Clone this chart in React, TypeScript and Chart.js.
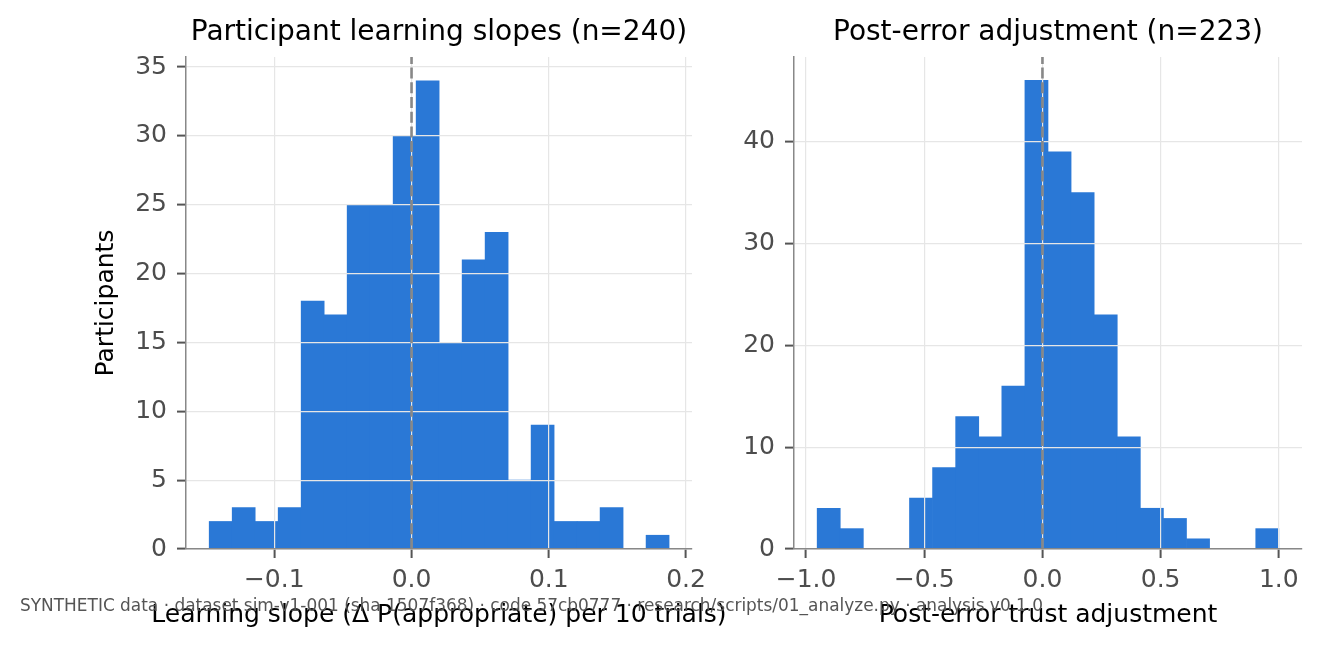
import React, { useEffect, useRef } from "react";
import Chart from "chart.js/auto";

const FONT = "'DejaVu Sans', sans-serif";
const BAR = "#2a78d6";
const GRID = "#e6e6e6";
const TICK_TEXT = "#4d4d4d";

// left panel: learning slopes, 20 bins
const slopeBinStart = -0.1474;
const slopeBinWidth = 0.01675;
const slopeCounts = [2, 3, 2, 3, 18, 17, 25, 25, 30, 34, 15, 21, 23, 5, 9, 2, 2, 3, 0, 1];
const slopeXTicks = [-0.1, 0, 0.1, 0.2];
const slopeYTicks = [0, 5, 10, 15, 20, 25, 30, 35];

// right panel: post-error adjustment, 20 bins
const adjBinStart = -0.953;
const adjBinWidth = 0.09765;
const adjCounts = [4, 2, 0, 0, 5, 8, 13, 11, 16, 46, 39, 35, 23, 11, 4, 3, 1, 0, 0, 2];
const adjXTicks = [-1, -0.5, 0, 0.5, 1];
const adjYTicks = [0, 10, 20, 30, 40];

const FOOTER =
  "SYNTHETIC data · dataset sim-v1-001 (sha 1507f368) · code 57cb0777 · research/scripts/01_analyze.py · analysis v0.1.0";

Chart.defaults.font.family = FONT;

const fmtX = (v: number) => (v < 0 ? "\u2212" : "") + Math.abs(v).toFixed(1);

// dashed vertical marker at x = 0, drawn from the bottom up like axvline
const zeroLine = {
  id: "zeroLine",
  afterDraw(chart: any) {
    const { ctx, chartArea, scales } = chart;
    const x = scales.x.getPixelForValue(0);
    ctx.save();
    ctx.strokeStyle = "#888888";
    ctx.lineWidth = 2.6;
    ctx.setLineDash([11, 3.7]);
    ctx.beginPath();
    ctx.moveTo(x, chartArea.bottom);
    ctx.lineTo(x, chartArea.top);
    ctx.stroke();
    ctx.restore();
  },
};

interface HistProps {
  title: string;
  xLabel: string;
  yLabel?: string;
  binStart: number;
  binWidth: number;
  counts: number[];
  xMin: number;
  xMax: number;
  yMax: number;
  xTicks: number[];
  yTicks: number[];
  width: number;
  height: number;
  yAxisWidth: number;
  padRight: number;
}

const Histogram: React.FC<HistProps> = (p) => {
  const canvasRef = useRef<HTMLCanvasElement | null>(null);

  useEffect(() => {
    const ctx = canvasRef.current?.getContext("2d");
    if (!ctx) return;

    const points = p.counts.map((c, i) => ({
      x: p.binStart + (i + 0.5) * p.binWidth,
      y: c,
    }));

    // x title drawn by hand so it is not squeezed to the plot width
    const xTitle = {
      id: "xTitle",
      afterDraw(chart: any) {
        const { ctx, chartArea } = chart;
        ctx.save();
        ctx.font = `25px ${FONT}`;
        ctx.fillStyle = "#000";
        ctx.textAlign = "center";
        ctx.textBaseline = "middle";
        ctx.fillText(p.xLabel, (chartArea.left + chartArea.right) / 2, 615.5);
        ctx.restore();
      },
    };

    const chart = new Chart(ctx, {
      type: "bar",
      data: {
        datasets: [
          {
            data: points as any,
            backgroundColor: BAR,
            borderWidth: 0,
            barPercentage: 1,
            categoryPercentage: 1,
          },
        ],
      },
      options: {
        responsive: false,
        animation: false,
        layout: { padding: { left: 0, right: p.padRight, top: 0, bottom: 0 } },
        plugins: {
          legend: { display: false },
          tooltip: { enabled: false },
          title: {
            display: true,
            text: p.title,
            fullSize: false,
            color: "#000",
            font: { size: 28, weight: "normal" },
            padding: { top: 15.5, bottom: 7.9 },
          },
        },
        scales: {
          x: {
            type: "linear",
            min: p.xMin,
            max: p.xMax,
            offset: false,
            grid: {
              offset: false,
              color: GRID,
              lineWidth: 1.2,
              z: 1,
              tickLength: 9,
              tickColor: "#555",
              tickWidth: 2,
            },
            border: { color: "#888", width: 1.5, z: 2 },
            ticks: {
              color: TICK_TEXT,
              font: { size: 25 },
              padding: 7,
              autoSkip: false,
              maxRotation: 0,
              callback: (v: any) => fmtX(Number(v)),
            },
            afterBuildTicks: (s: any) => {
              s.ticks = p.xTicks.map((v) => ({ value: v }));
            },
            afterFit: (s: any) => {
              s.height = 102;
            },
          },
          y: {
            min: 0,
            max: p.yMax,
            grid: {
              color: GRID,
              lineWidth: 1.2,
              z: 1,
              tickLength: 9,
              tickColor: "#555",
              tickWidth: 2,
            },
            border: { color: "#888", width: 1.5, z: 2 },
            ticks: {
              color: TICK_TEXT,
              font: { size: 25 },
              padding: 10,
              autoSkip: false,
              callback: (v: any) => String(Math.round(Number(v))),
            },
            afterBuildTicks: (s: any) => {
              s.ticks = p.yTicks.map((v) => ({ value: v }));
            },
            afterFit: (s: any) => {
              s.width = p.yAxisWidth;
            },
            title: {
              display: !!p.yLabel,
              text: p.yLabel || "",
              color: "#000",
              font: { size: 25 },
              padding: { top: 91, bottom: 0 },
            },
          },
        },
      },
      plugins: [zeroLine, xTitle],
    });

    return () => {
      chart.destroy();
    };
  }, []);

  return (
    <canvas
      ref={canvasRef}
      width={p.width}
      height={p.height}
      style={{ width: p.width, height: p.height, display: "block" }}
    />
  );
};

export default function App() {
  return (
    <div
      style={{
        position: "absolute",
        left: 0,
        top: 0,
        width: 1321,
        height: 651,
        background: "#fff",
        overflow: "hidden",
      }}
    >
      <div style={{ position: "absolute", left: 0, top: 0 }}>
        <Histogram
          title="Participant learning slopes (n=240)"
          xLabel="Learning slope (Δ P(appropriate) per 10 trials)"
          yLabel="Participants"
          binStart={slopeBinStart}
          binWidth={slopeBinWidth}
          counts={slopeCounts}
          xMin={-0.1643}
          xMax={0.2043}
          yMax={35.73}
          xTicks={slopeXTicks}
          yTicks={slopeYTicks}
          width={750}
          height={651}
          yAxisWidth={186}
          padRight={58}
        />
      </div>
      <div style={{ position: "absolute", left: 720, top: 0 }}>
        <Histogram
          title="Post-error adjustment (n=223)"
          xLabel="Post-error trust adjustment"
          binStart={adjBinStart}
          binWidth={adjBinWidth}
          counts={adjCounts}
          xMin={-1.051}
          xMax={1.098}
          yMax={48.3}
          xTicks={adjXTicks}
          yTicks={adjYTicks}
          width={601}
          height={651}
          yAxisWidth={74}
          padRight={19}
        />
      </div>
      <div
        style={{
          position: "absolute",
          left: 20,
          top: 597,
          fontFamily: FONT,
          fontSize: 16.95,
          lineHeight: 1,
          color: "#555",
          whiteSpace: "nowrap",
        }}
      >
        {FOOTER}
      </div>
    </div>
  );
}
